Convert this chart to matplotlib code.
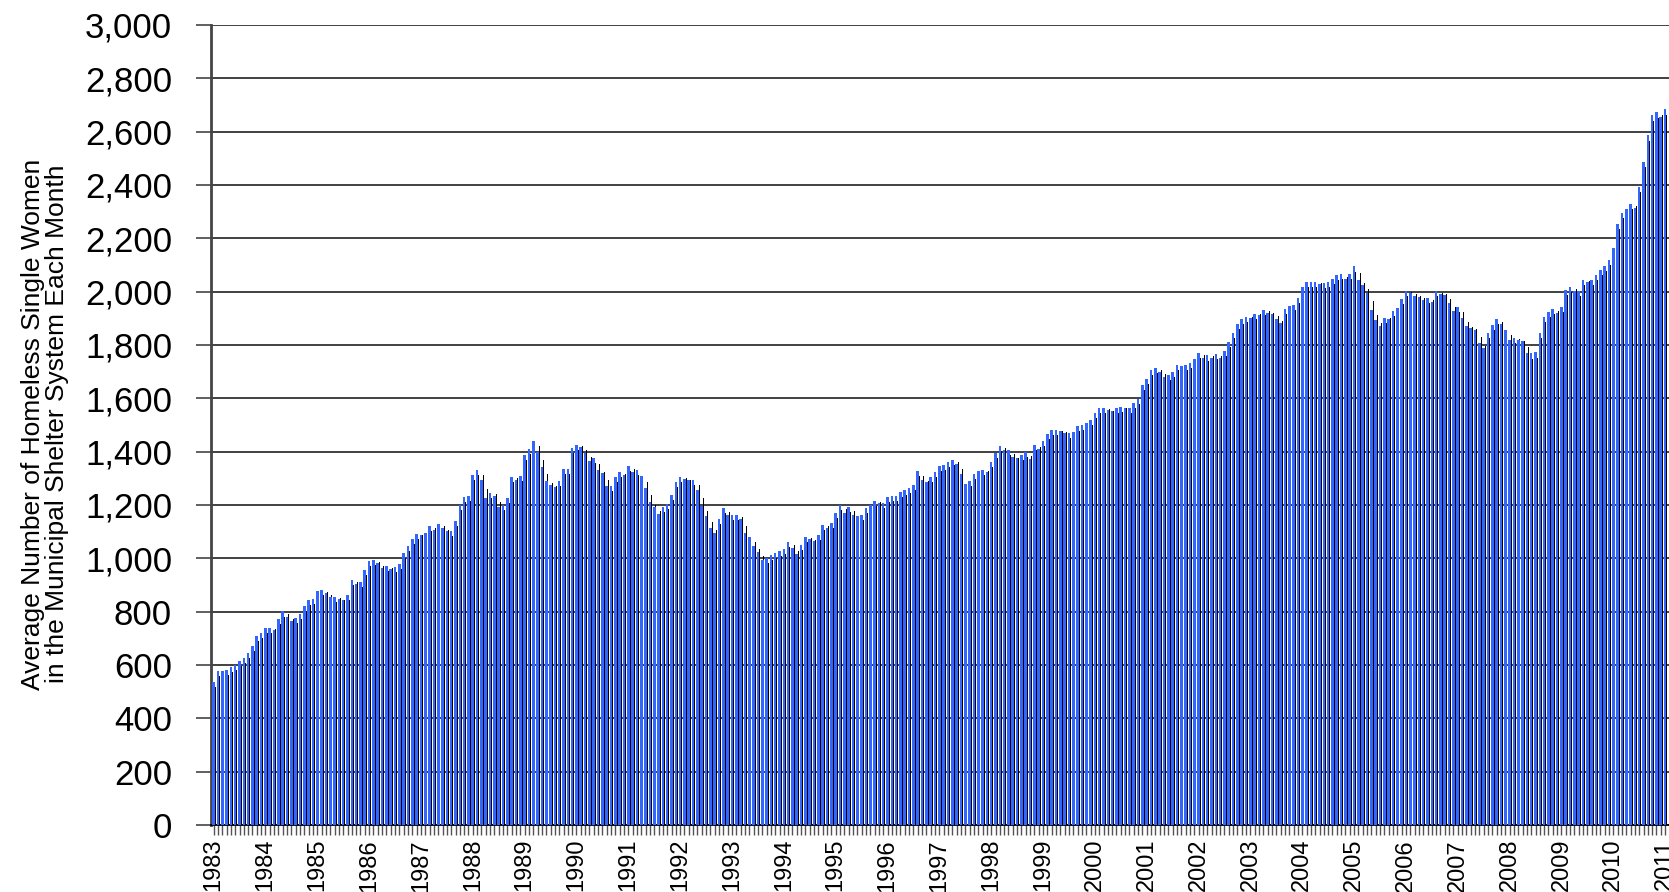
import matplotlib
matplotlib.use("Agg")
import matplotlib.pyplot as plt
import numpy as np

plt.rcParams['font.family'] = ['Liberation Sans', 'DejaVu Sans']

# Monthly averages, Jan 1983 - Jan 2011
v1983_1987 = [536, 577, 577, 581, 592, 600, 615, 626, 645, 671, 709, 720,
              739, 739, 731, 772, 801, 780, 765, 776, 791, 821, 844, 847,
              877, 881, 870, 855, 855, 847, 844, 862, 919, 904, 911, 956,
              990, 994, 982, 964, 971, 960, 967, 979, 1020, 1046, 1072, 1091,
              1087, 1095, 1121, 1106, 1129, 1114, 1102, 1102, 1140, 1200, 1230, 1234]
v1988_1992 = [1312, 1331, 1294, 1226, 1245, 1234, 1192, 1200, 1226, 1305, 1294, 1309,
              1388, 1410, 1440, 1399, 1342, 1290, 1275, 1267, 1290, 1335, 1335, 1414,
              1425, 1417, 1395, 1365, 1376, 1331, 1320, 1271, 1271, 1305, 1324, 1312,
              1346, 1324, 1331, 1309, 1264, 1211, 1192, 1166, 1192, 1204, 1237, 1286,
              1305, 1297, 1294, 1294, 1256, 1196, 1159, 1114, 1096, 1147, 1189, 1162]
v1993_1997 = [1162, 1162, 1147, 1095, 1080, 1046, 1024, 994, 1001, 1012, 1020, 1027,
              1035, 1061, 1039, 1016, 1050, 1080, 1072, 1065, 1087, 1125, 1114, 1132,
              1170, 1200, 1170, 1192, 1162, 1159, 1162, 1189, 1200, 1215, 1207, 1207,
              1230, 1234, 1234, 1249, 1256, 1264, 1275, 1327, 1294, 1286, 1305, 1324,
              1346, 1350, 1361, 1369, 1354, 1316, 1279, 1290, 1316, 1328, 1331, 1324]
v1998_2002 = [1361, 1395, 1421, 1406, 1406, 1380, 1376, 1387, 1399, 1372, 1425, 1410,
              1440, 1466, 1481, 1481, 1477, 1470, 1470, 1474, 1496, 1500, 1507, 1519,
              1545, 1564, 1564, 1556, 1552, 1564, 1567, 1564, 1564, 1582, 1597, 1650,
              1672, 1706, 1714, 1699, 1680, 1687, 1699, 1725, 1721, 1725, 1732, 1747,
              1770, 1753, 1761, 1753, 1768, 1753, 1779, 1813, 1846, 1880, 1898, 1906]
v2003_2007 = [1902, 1917, 1913, 1932, 1921, 1917, 1898, 1883, 1936, 1947, 1950, 1976,
              2017, 2036, 2036, 2036, 2029, 2032, 2036, 2047, 2062, 2066, 2047, 2066,
              2095, 2043, 2025, 1995, 1932, 1895, 1872, 1902, 1898, 1928, 1939, 1973,
              2002, 1995, 1984, 1980, 1969, 1976, 1962, 2002, 1991, 1988, 1958, 1927,
              1943, 1901, 1871, 1863, 1856, 1807, 1788, 1845, 1875, 1897, 1879, 1856]
v2008_2011 = [1818, 1826, 1818, 1815, 1769, 1769, 1773, 1845, 1905, 1924, 1935, 1920,
              1943, 2007, 2018, 2003, 2003, 2044, 2037, 2044, 2063, 2082, 2097, 2119,
              2164, 2255, 2296, 2311, 2330, 2315, 2394, 2488, 2586, 2661, 2673, 2654,
              2684]

years = list(range(1983, 2012))
y_ticks = list(range(0, 3001, 200))

values = np.array(v1983_1987 + v1988_1992 + v1993_1997 + v1998_2002 + v2003_2007 + v2008_2011, dtype=float)
n = len(values)
x = np.arange(n)

# side face (3D look): lower when rising, between neighbours when falling
prev = np.concatenate([[values[0]], values[:-1]])
side = np.where(values >= prev, values - 20, (values + prev) / 2)

fig = plt.figure(figsize=(16.69, 8.92), dpi=100)
ax = fig.add_axes([211 / 1669, 1 - 825 / 892, 1 - 211 / 1669, 800 / 892])

ax.bar(x + 0.4, side, width=0.22, color='black', linewidth=0, zorder=2, antialiased=False)
ax.bar(x, values, width=0.6, color='#3366FF', linewidth=0, zorder=3, antialiased=False)

ax.set_ylim(0, 3000)
ax.set_xlim(-0.6, n - 0.1)
ax.set_yticks(y_ticks)
ax.set_yticklabels([f"{t:,}" for t in y_ticks], fontsize=25)
ax.yaxis.grid(True, color='#333333', linewidth=1.3, zorder=0)
ax.set_axisbelow(True)

ax.set_xticks(x, minor=True)
ax.set_xticks([12 * i for i in range(len(years))])
ax.set_xticklabels([str(y) for y in years], rotation=90, fontsize=17, va='top')
ax.tick_params(axis='x', which='both', direction='inout', length=14, width=1, color='#555555', pad=3)
ax.tick_params(axis='y', direction='out', length=11, width=1.2, color='#444444', pad=17)

for s in ['top', 'right']:
    ax.spines[s].set_visible(False)
ax.spines['left'].set_color('#444444')
ax.spines['left'].set_linewidth(2)
ax.spines['bottom'].set_color('black')
ax.spines['bottom'].set_linewidth(1.3)

fig.text(45 / 1669, 1 - 424 / 892,
         "Average Number of Homeless Single Women\nin the Municipal Shelter System Each Month",
         rotation=90, ha='center', va='center', multialignment='center', fontsize=19,
         linespacing=1.0)

fig.savefig("out.png", dpi=100)
